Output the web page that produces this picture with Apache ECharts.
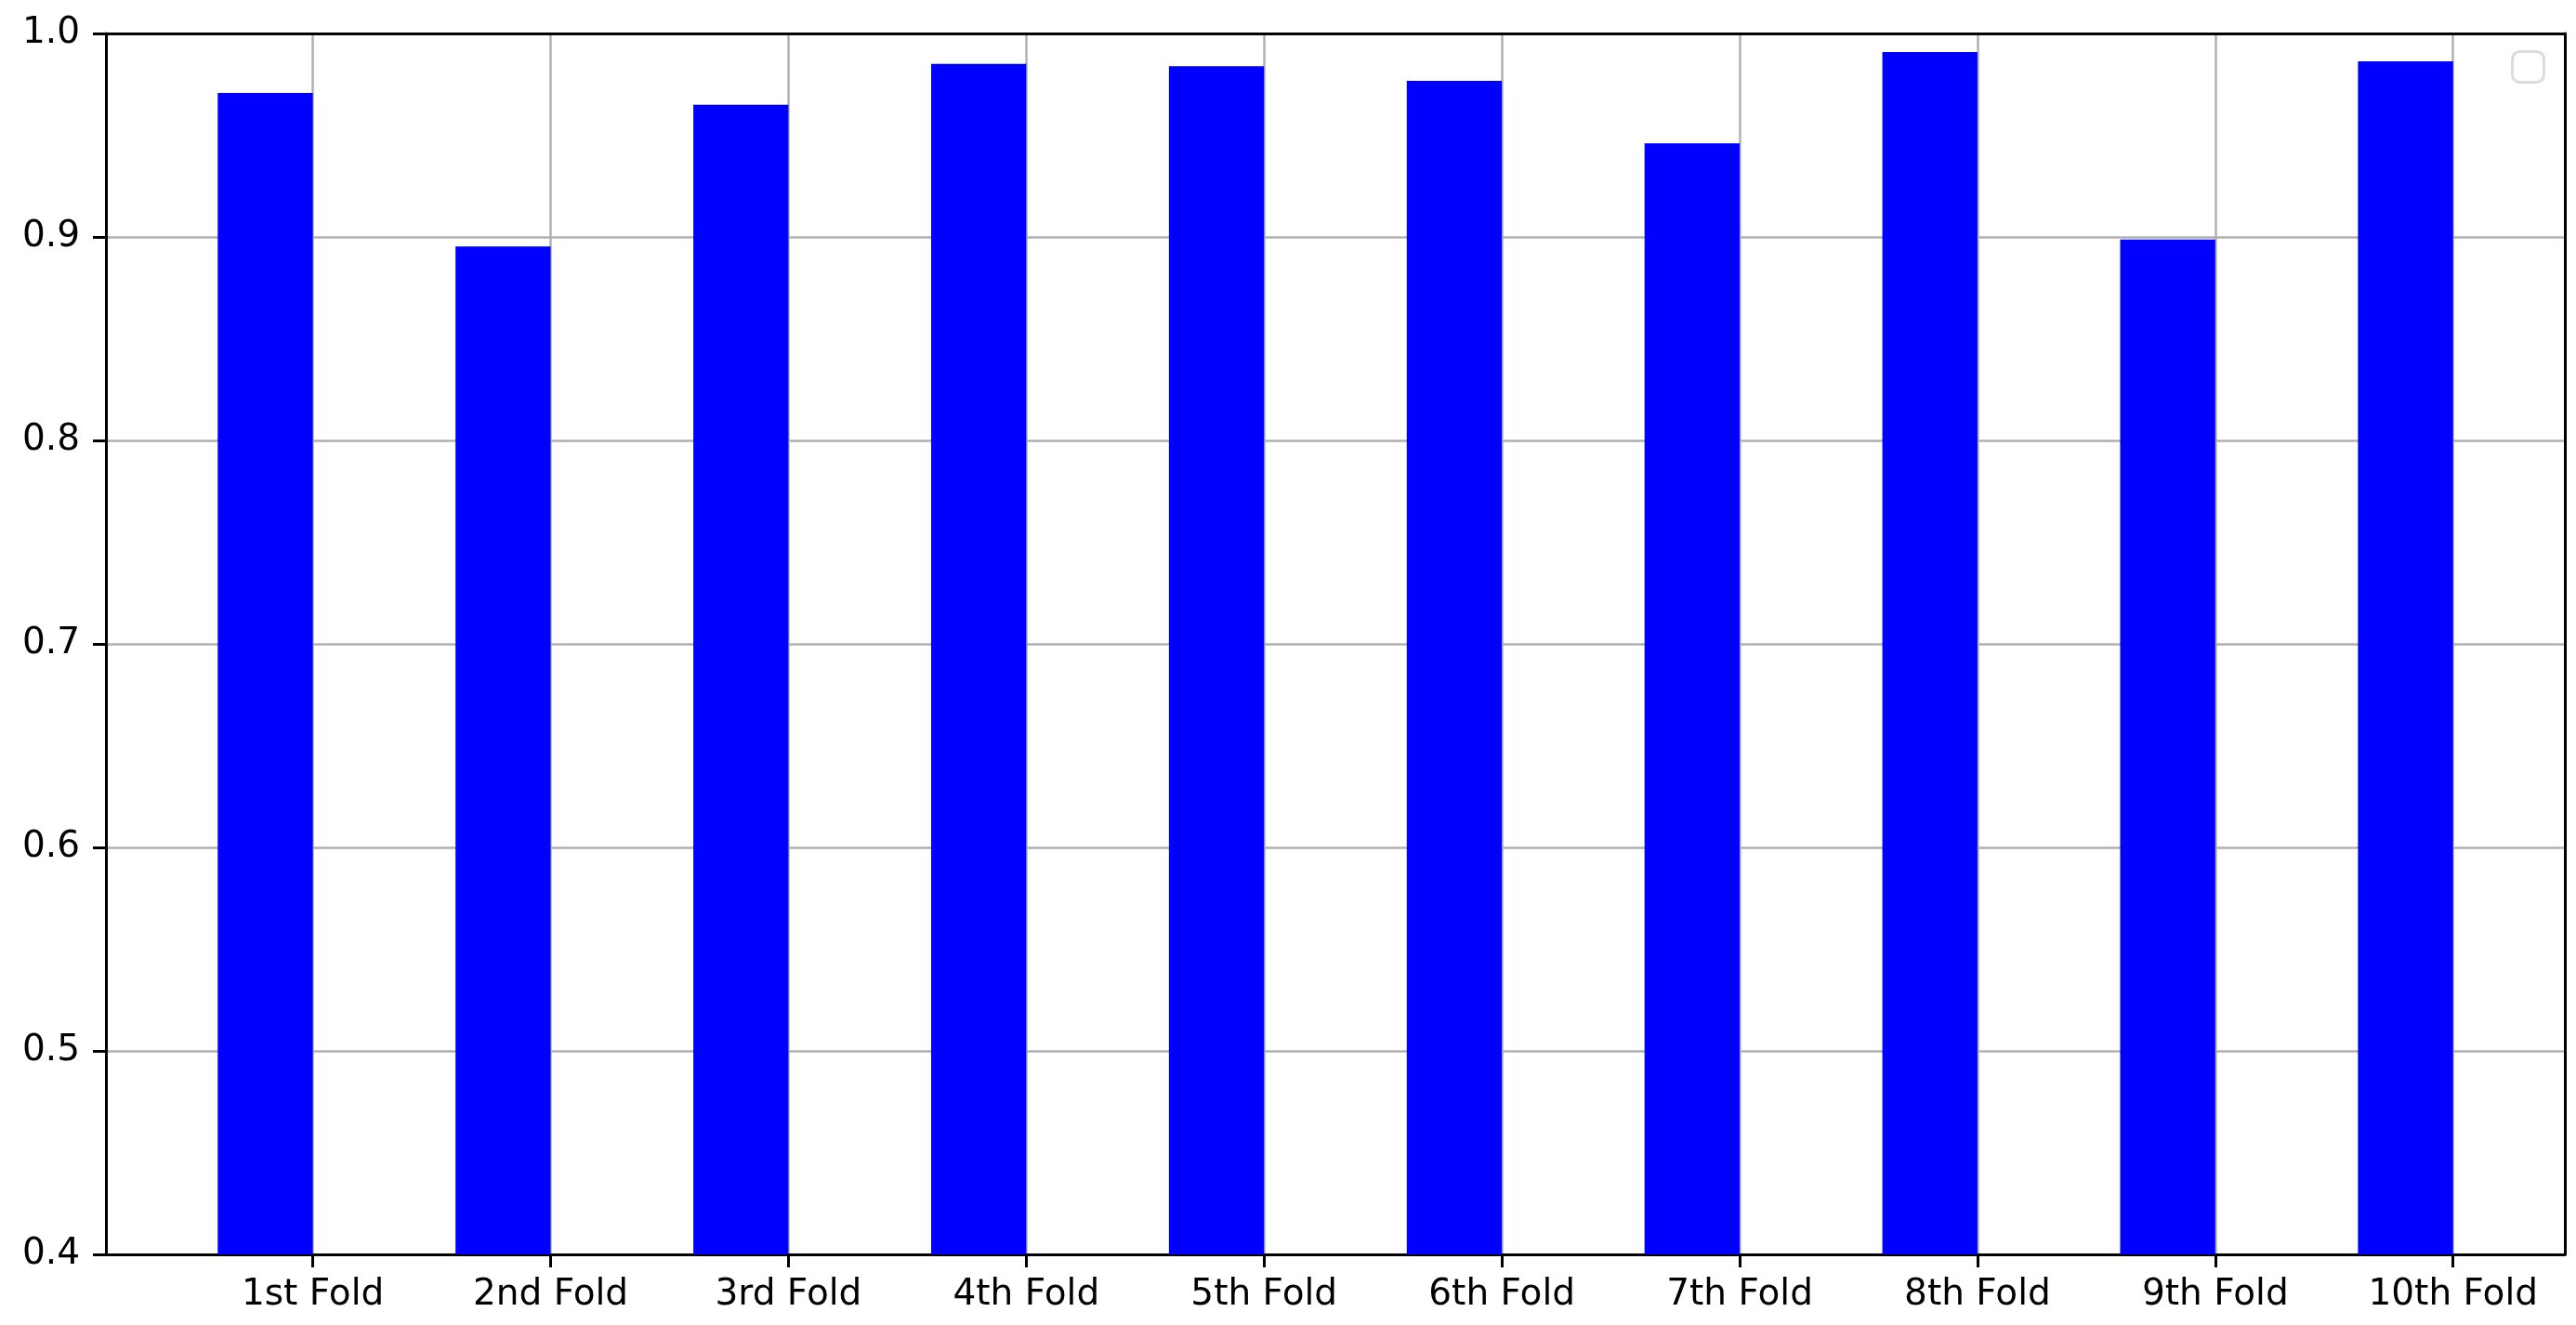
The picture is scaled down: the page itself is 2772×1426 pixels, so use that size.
<!DOCTYPE html>
<html>
<head>
<meta charset="utf-8">
<script src="https://cdn.jsdelivr.net/npm/echarts@6/dist/echarts.min.js"></script>
<style>
  html, body { margin: 0; padding: 0; background: #fff; }
  #chart { width: 2772px; height: 1426px; }
</style>
</head>
<body>
<div id="chart"></div>
<script>
const folds = ['1st Fold', '2nd Fold', '3rd Fold', '4th Fold', '5th Fold',
               '6th Fold', '7th Fold', '8th Fold', '9th Fold', '10th Fold'];
const scores = [0.9708, 0.8953, 0.9650, 0.9851, 0.9839, 0.9767, 0.9460, 0.9909, 0.8988, 0.9863];
const yMin = 0.4, yMax = 1.0;
const xMin = -0.87, xMax = 9.47;
const barWidth = 0.4;          // bars drawn from x - width to x (edge aligned)
const tickPos = folds.map((_, i) => i);

const chart = echarts.init(document.getElementById('chart'));
const font = 'DejaVu Sans';
const spine = { show: true, onZero: false, lineStyle: { color: '#000', width: 3 } };

chart.setOption({
    animation: false,
    backgroundColor: '#fff',
    grid: { left: 114, right: 12, top: 36, bottom: 76 },
    xAxis: [{
        type: 'value',
        min: xMin, max: xMax,
        axisLine: spine,
        axisTick: { show: true, customValues: tickPos, length: 14, lineStyle: { color: '#000', width: 3 } },
        axisLabel: {
            customValues: tickPos, margin: 24, color: '#000', fontFamily: font, fontSize: 39,
            formatter: v => folds[Math.round(v)]
        },
        splitLine: { show: true, lineStyle: { color: '#b0b0b0', width: 2.5 } },
        z: 1
    }, {
        type: 'value', position: 'top',
        min: xMin, max: xMax,
        axisLine: spine, axisTick: { show: false }, axisLabel: { show: false }, splitLine: { show: false },
        z: 5
    }],
    yAxis: [{
        type: 'value',
        min: yMin, max: yMax, interval: 0.1,
        axisLine: spine,
        axisTick: { show: true, length: 14, lineStyle: { color: '#000', width: 3 } },
        axisLabel: {
            margin: 28, color: '#000', fontFamily: font, fontSize: 39,
            formatter: v => v.toFixed(1)
        },
        splitLine: { show: true, lineStyle: { color: '#b0b0b0', width: 2.5 } },
        z: 1
    }, {
        type: 'value', position: 'right',
        min: yMin, max: yMax,
        axisLine: spine, axisTick: { show: false }, axisLabel: { show: false }, splitLine: { show: false },
        z: 5
    }],
    series: [{
        type: 'custom',
        data: scores.map((v, i) => [i, v]),
        renderItem: (params, api) => {
            const x = api.value(0), v = api.value(1);
            const p0 = api.coord([x - barWidth, v]);
            const p1 = api.coord([x, yMin]);
            return {
                type: 'rect',
                shape: { x: p0[0], y: p0[1], width: p1[0] - p0[0], height: p1[1] - p0[1] },
                style: { fill: '#0000ff' }
            };
        },
        z: 2
    }],
    graphic: [{
        type: 'rect',
        right: 33, top: 54,
        shape: { width: 34, height: 33, r: 8 },
        style: { fill: '#fff', stroke: '#dcdcdc', lineWidth: 3 }
    }]
});
</script>
</body>
</html>
